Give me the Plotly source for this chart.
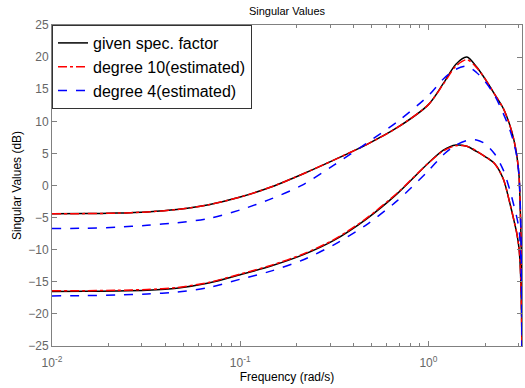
import math
import plotly.graph_objects as go

# Frequency grid (rad/s)
freq = [0.01, 0.015, 0.022, 0.032, 0.046, 0.068, 0.1, 0.147, 0.215, 0.316, 0.464, 0.681,
        1.0, 1.2, 1.4, 1.6, 1.8, 2.0, 2.25, 2.5, 2.7, 2.85, 2.95, 3.03, 3.08, 3.11, 3.13, 3.14]

# given spectral factor (two singular values, dB)
given_sv1 = [-4.4, -4.38, -4.3, -4.12, -3.75, -3.0, -1.8, -0.2, 1.8, 4.0, 6.3, 9.0,
             12.6, 15.9, 18.9, 20.0, 18.5, 16.6, 14.2, 12.0, 9.5, 7.0, 4.6, 1.5,
             -4.2, -9.5, -15.0, -30.0]
given_sv2 = [-16.5, -16.48, -16.42, -16.3, -16.0, -15.2, -13.9, -12.5, -10.8, -8.5, -5.3, -1.3,
             3.5, 5.5, 6.3, 6.1, 5.3, 4.5, 3.4, 1.0, -2.6, -5.5, -7.5, -9.8,
             -13.0, -17.0, -22.0, -32.0]

# degree 10 (estimated)
deg10_sv1 = [-4.4, -4.38, -4.3, -4.12, -3.75, -3.0, -1.8, -0.2, 1.8, 4.0, 6.3, 9.0,
             12.6, 15.8, 18.6, 19.6, 18.4, 16.6, 14.2, 12.0, 9.5, 7.0, 4.6, 1.5,
             -4.2, -9.5, -15.0, -30.0]
deg10_sv2 = [-16.4, -16.38, -16.32, -16.2, -15.9, -15.1, -13.8, -12.4, -10.7, -8.4, -5.2, -1.2,
             3.5, 5.4, 6.2, 6.1, 5.4, 4.5, 3.4, 1.0, -2.6, -5.5, -7.5, -9.8,
             -13.0, -17.0, -22.0, -32.0]

# degree 4 (estimated)
deg4_sv1 = [-6.7, -6.65, -6.5, -6.2, -5.8, -5.15, -3.8, -2.05, 0.1, 3.2, 6.5, 9.9,
            14.0, 16.6, 18.1, 18.6, 17.6, 16.2, 14.0, 11.2, 8.8, 6.5, 4.5, 1.5,
            -3.5, -9.0, -15.0, -30.0]
deg4_sv2 = [-17.2, -17.15, -17.05, -16.9, -16.6, -15.9, -14.6, -13.3, -11.6, -9.2, -6.2, -2.4,
            2.3, 4.8, 6.3, 7.0, 7.1, 6.5, 4.9, 2.4, -0.6, -3.2, -5.0, -6.8,
            -9.5, -13.0, -19.0, -32.0]

x_tickvals = [0.01, 0.1, 1]
x_ticktext = ["10<sup>-2</sup>", "10<sup>-1</sup>", "10<sup>0</sup>"]
x_minor = [k * d for d in (0.01, 0.1, 1) for k in range(2, 10) if k * d < 3.2]
y_tickvals = [-25, -20, -15, -10, -5, 0, 5, 10, 15, 20, 25]

series = [
    ("given spec. factor", given_sv1, given_sv2, "#000000", "solid"),
    ("degree 10(estimated)", deg10_sv1, deg10_sv2, "#ff0000", "dashdot"),
    ("degree 4(estimated)", deg4_sv1, deg4_sv2, "#0000ff", "dash"),
]

fig = go.Figure()
for name, s1, s2, color, dash in series:
    fig.add_trace(go.Scatter(x=freq, y=s1, mode="lines", name=name,
                             line=dict(color=color, dash=dash, width=1.5, shape="spline", smoothing=0.8),
                             legendgroup=name))
    fig.add_trace(go.Scatter(x=freq, y=s2, mode="lines", name=name, showlegend=False,
                             line=dict(color=color, dash=dash, width=1.5, shape="spline", smoothing=0.8),
                             legendgroup=name))

axis_color = "#808080"
fig.update_layout(
    width=525, height=388,
    margin=dict(l=52, r=3, t=25, b=42),
    paper_bgcolor="white", plot_bgcolor="white",
    font=dict(family="Liberation Sans, Arial, sans-serif", color="#000000"),
    title=dict(text="Singular Values", x=0.5, xref="paper", xanchor="center",
               y=0.972, yref="container", yanchor="middle",
               font=dict(size=11, color="#000000")),
    showlegend=True,
    legend=dict(x=0, y=1, xanchor="left", yanchor="top", bgcolor="white",
                bordercolor="#333333", borderwidth=1,
                font=dict(size=16, color="#000000"),
                itemwidth=30, tracegroupgap=0),
    xaxis=dict(type="log", range=[-2, math.log10(math.pi)],
               tickmode="array", tickvals=x_tickvals, ticktext=x_ticktext,
               ticks="inside", ticklen=5, tickcolor=axis_color, ticklabelstandoff=6,
               minor=dict(tickmode="array", tickvals=x_minor, ticks="inside",
                          ticklen=3, tickcolor=axis_color, showgrid=False),
               showline=True, linecolor=axis_color, linewidth=1, mirror="ticks",
               showgrid=False, zeroline=False,
               tickfont=dict(size=12, color="#666666"),
               title=dict(text="Frequency (rad/s)", font=dict(size=12, color="#000000"), standoff=2)),
    yaxis=dict(range=[-25, 25], tickmode="array", tickvals=y_tickvals,
               ticks="inside", ticklen=5, tickcolor=axis_color,
               showline=True, linecolor=axis_color, linewidth=1, mirror="ticks",
               showgrid=False, zeroline=False,
               tickfont=dict(size=12, color="#666666"),
               title=dict(text="Singular Values (dB)", font=dict(size=12, color="#000000"), standoff=4)),
)

fig.write_html("out.html")
